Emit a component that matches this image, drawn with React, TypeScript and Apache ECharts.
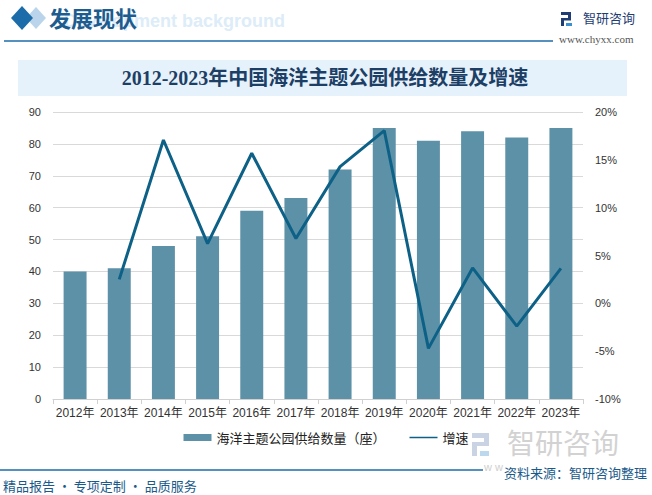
import React, { useEffect, useRef } from "react";
import * as echarts from "echarts";

const years = ["2012年", "2013年", "2014年", "2015年", "2016年", "2017年", "2018年", "2019年", "2020年", "2021年", "2022年", "2023年"];
const parkCount = [40, 41, 48, 51, 59, 63, 72, 85, 81, 84, 82, 85];
const growthRate = [null, 2.5, 17.07, 6.25, 15.69, 6.78, 14.29, 18.06, -4.71, 3.7, -2.38, 3.66];
const barName = "海洋主题公园供给数量（座）";
const lineName = "增速";
const chartTitle = "2012-2023年中国海洋主题公园供给数量及增速";

const SANS = "'Liberation Sans', 'Noto Sans CJK SC', sans-serif";
const CJK = "'Noto Sans CJK SC', sans-serif";

export default function App() {
  const ref = useRef<HTMLDivElement>(null);
  useEffect(() => {
    document.body.style.margin = "0";
    const chart = echarts.init(ref.current!, null, { renderer: "svg" });
    const option: any = {
      animation: false,
      backgroundColor: "#ffffff",
      grid: { left: 53, right: 69, top: 112, bottom: 96, containLabel: false },
      legend: {
        bottom: 46,
        left: "center",
        itemWidth: 28,
        itemHeight: 7,
        itemGap: 24,
        textStyle: { fontSize: 13, color: "#222", fontFamily: CJK },
        data: [
          { name: barName, icon: "rect" },
          { name: lineName, icon: "path://M0,0h0.01v0.01h-0.01z M0,2.6h30v1.8h-30z M0,6.99h0.01v0.01h-0.01z" },
        ],
      },
      xAxis: {
        type: "category",
        data: years,
        boundaryGap: true,
        axisLine: { lineStyle: { color: "#d0d0d0" } },
        axisTick: { show: true, length: 5, lineStyle: { color: "#d0d0d0" } },
        axisLabel: { fontSize: 12, color: "#333", fontFamily: SANS, margin: 8, interval: 0, hideOverlap: false },
      },
      yAxis: [
        {
          type: "value",
          min: 0,
          max: 90,
          interval: 10,
          axisLine: { show: false },
          axisTick: { show: false },
          splitLine: { lineStyle: { color: "#d9d9d9" } },
          axisLabel: { fontSize: 11, color: "#333", fontFamily: SANS, margin: 12 },
        },
        {
          type: "value",
          min: -10,
          max: 20,
          interval: 5,
          axisLine: { show: false },
          axisTick: { show: false },
          splitLine: { show: false },
          axisLabel: { fontSize: 11, color: "#333", fontFamily: SANS, margin: 12, formatter: "{value}%" },
        },
      ],
      series: [
        {
          name: barName,
          type: "bar",
          data: parkCount,
          barWidth: "52%",
          itemStyle: { color: "#5d91a8" },
          yAxisIndex: 0,
        },
        {
          name: lineName,
          type: "line",
          data: growthRate,
          yAxisIndex: 1,
          symbol: "none",
          connectNulls: false,
          lineStyle: { color: "#0d6186", width: 3 },
          itemStyle: { color: "#0d6186" },
        },
      ],
      graphic: [
        // header diamonds
        { type: "polygon", shape: { points: [[36, 7], [46, 18], [36, 29], [26, 18]] }, style: { fill: "#a9cbe6", opacity: 0.8 }, z: 10 },
        { type: "polygon", shape: { points: [[22, 6], [33, 18], [22, 30], [11, 18]] }, style: { fill: "#1b6ca8" }, z: 11 },
        // ghost text
        { type: "text", x: 64, y: 12, style: { text: "Development background", font: "bold 18px 'Liberation Sans', sans-serif", fill: "#dcecf8" }, z: 9 },
        { type: "text", x: 49, y: 6, style: { text: "发展现状", font: "bold 22px 'Noto Sans CJK SC', sans-serif", fill: "#1d5c8f" }, z: 12 },
        // header line
        { type: "line", shape: { x1: 4, y1: 41, x2: 553, y2: 41 }, style: { stroke: "#1b6ca8", lineWidth: 1.5 }, z: 10 },
        // logo
        { type: "rect", shape: { x: 561, y: 12, width: 10, height: 3 }, style: { fill: "#1f3d73" }, z: 10 },
        { type: "rect", shape: { x: 568, y: 12, width: 3, height: 8 }, style: { fill: "#1f3d73" }, z: 10 },
        { type: "rect", shape: { x: 561, y: 18, width: 10, height: 2.5 }, style: { fill: "#1f3d73" }, z: 10 },
        { type: "rect", shape: { x: 561, y: 18, width: 3, height: 8 }, style: { fill: "#1f3d73" }, z: 10 },
        { type: "rect", shape: { x: 566, y: 23, width: 6, height: 3 }, style: { fill: "#3a8fd0" }, z: 10 },
        { type: "text", x: 583, y: 11, style: { text: "智研咨询", font: "13px 'Noto Sans CJK SC', sans-serif", fill: "#1f3d73" }, z: 10 },
        { type: "text", x: 559, y: 33, style: { text: "www.chyxx.com", font: "11px 'Liberation Serif', serif", fill: "#555" }, z: 10 },
        // title box
        { type: "rect", shape: { x: 18, y: 60, width: 609, height: 36 }, style: { fill: "#e6f2fb" }, z: 1 },
        { type: "text", x: 325, y: 78, style: { text: chartTitle, font: "bold 20px 'Liberation Serif', 'Noto Sans CJK SC', serif", fill: "#1d3f66", align: "center", verticalAlign: "middle" }, z: 2 },
        // watermark logo near legend
        { type: "rect", shape: { x: 472, y: 433, width: 17, height: 5 }, style: { fill: "#c9d3e3" }, z: 0 },
        { type: "rect", shape: { x: 484, y: 433, width: 5, height: 12 }, style: { fill: "#c9d3e3" }, z: 0 },
        { type: "rect", shape: { x: 472, y: 442, width: 17, height: 4 }, style: { fill: "#c9d3e3" }, z: 0 },
        { type: "rect", shape: { x: 472, y: 442, width: 5, height: 14 }, style: { fill: "#c9d3e3" }, z: 0 },
        { type: "rect", shape: { x: 480, y: 451, width: 9, height: 5 }, style: { fill: "#bcd8ef" }, z: 0 },
        { type: "text", x: 507, y: 442, style: { text: "智研咨询", font: "28px 'Noto Sans CJK SC', sans-serif", fill: "#d2d2d2", verticalAlign: "middle" }, z: 0 },
        { type: "text", x: 484, y: 461, style: { text: "w w", font: "11px 'Liberation Sans', sans-serif", fill: "#cfcfcf" }, z: 0 },
        // footer
        { type: "line", shape: { x1: 0, y1: 470, x2: 483, y2: 470 }, style: { stroke: "#1b6ca8", lineWidth: 1.5 }, z: 10 },
        { type: "text", x: 647, y: 472, style: { text: "资料来源：智研咨询整理", font: "13px 'Noto Sans CJK SC', sans-serif", fill: "#1a5a8a", align: "right", verticalAlign: "middle" }, z: 11 },
        { type: "text", x: 3, y: 485, style: { text: "精品报告 · 专项定制 · 品质服务", font: "13px 'Noto Sans CJK SC', sans-serif", fill: "#1a5a8a", verticalAlign: "middle" }, z: 11 },
      ],
    };
    chart.setOption(option);
    return () => chart.dispose();
  }, []);
  return <div ref={ref} style={{ position: "fixed", left: 0, top: 0, width: 652, height: 495 }} />;
}
